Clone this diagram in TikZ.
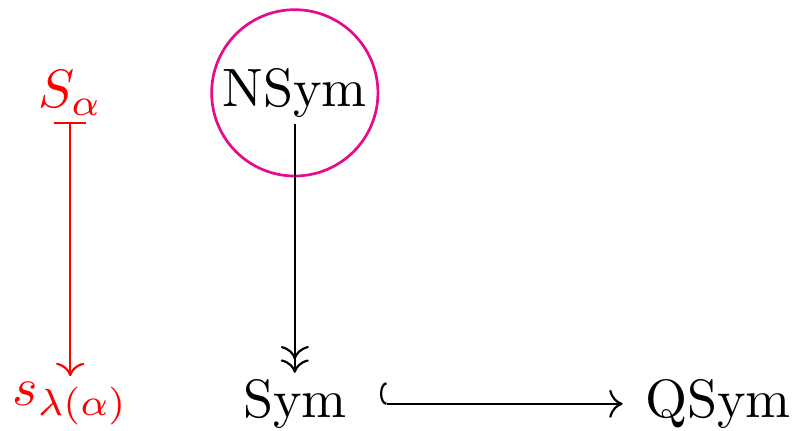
\documentclass[tikz,border=0pt]{standalone}
\usetikzlibrary{arrows.meta}
\definecolor{ringpink}{RGB}{230,10,140}

\begin{document}
\begin{tikzpicture}[
  x=1pt, y=1pt,
  obj/.style={inner sep=1pt},
  ring/.style={draw=ringpink, line width=0.5pt, circle, minimum size=30.8pt, inner sep=0pt},
  mapsto/.style={{Bar[width=6pt]}-{Computer Modern Rightarrow}, red},
  onto/.style={-{Computer Modern Rightarrow[]Computer Modern Rightarrow}},
  incl/.style={{Hooks[right, length=1.2pt, width=8pt]}-{Computer Modern Rightarrow}}]
  \useasboundingbox (0,0) rectangle (147.8,79.8);
  % top row
  \node[obj, red] (salpha) at (13,62.6) {$S_\alpha$};
  \node[obj] (nsym) at (54.6,62.6) {NSym};
  \node[ring] (circ) at (nsym.center) {};
  % bottom row
  \node[obj, red] (slam) at (13,5) {$s_{\lambda(\alpha)}$};
  \node[obj] (sym) at (54.6,5) {Sym};
  \node[obj] (qsym) at (133,5) {QSym};
  \draw[mapsto] (salpha) -- (slam);
  \draw[onto] (nsym) -- (sym);
  \draw[incl] ([xshift=5pt]sym.east) -- ([xshift=-3pt]qsym.west);
\end{tikzpicture}
\end{document}
